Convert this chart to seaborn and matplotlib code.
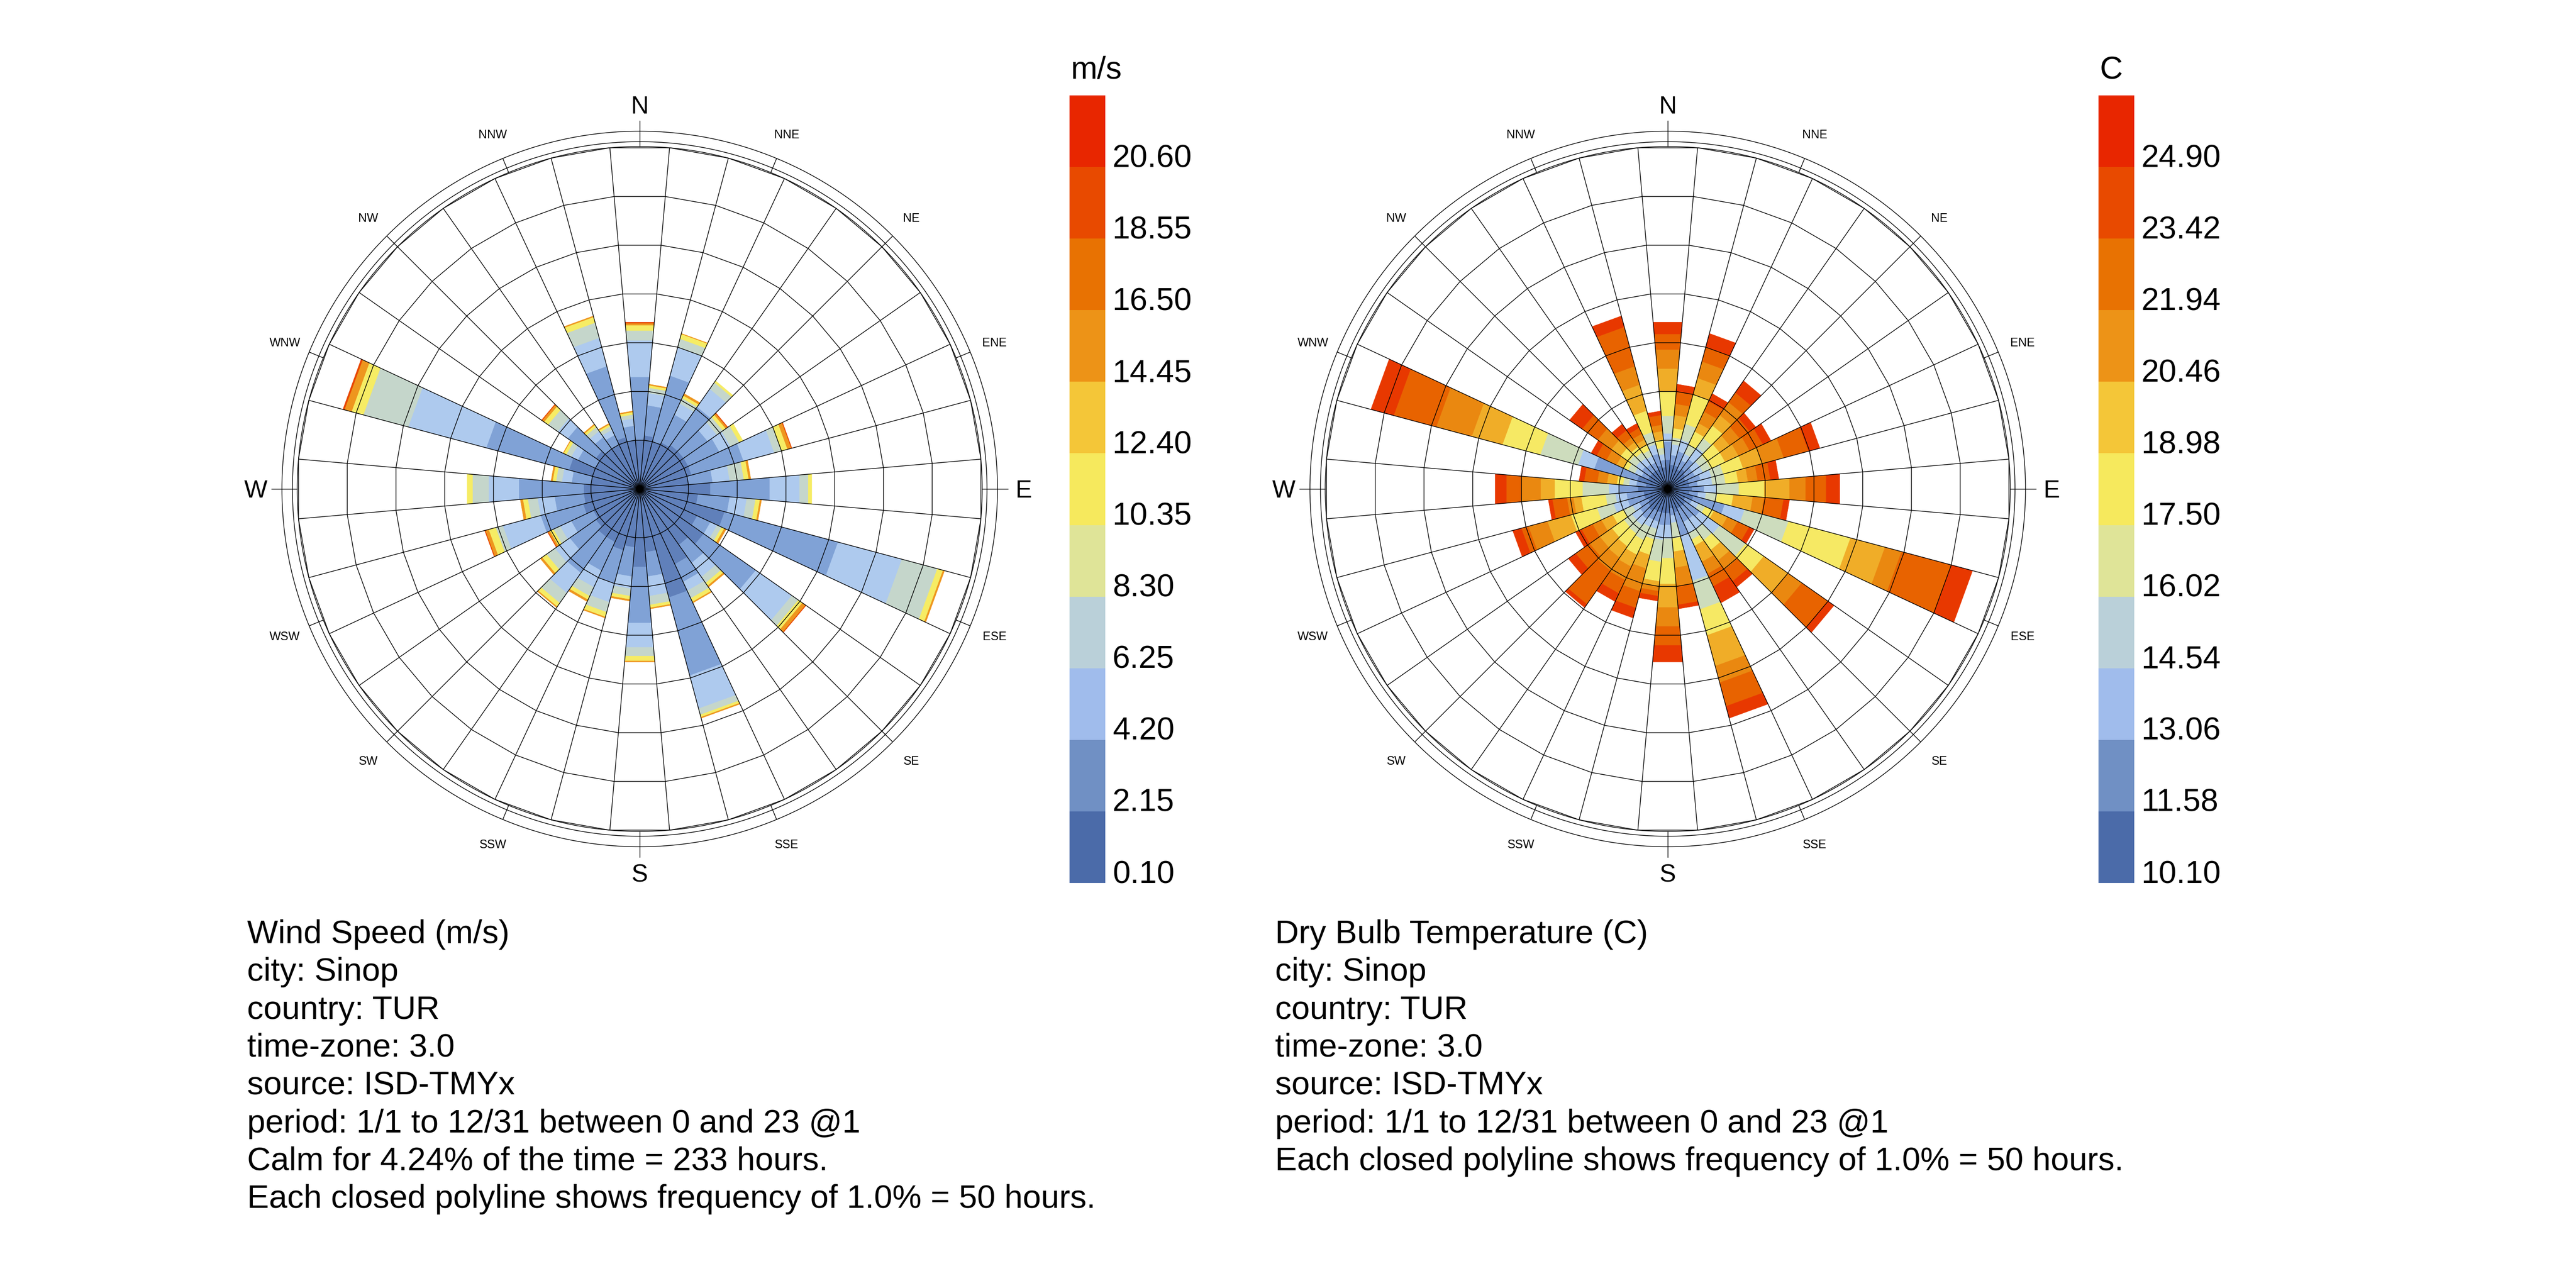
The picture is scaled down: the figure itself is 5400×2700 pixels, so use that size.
import numpy as np
import matplotlib
matplotlib.use("Agg")
import matplotlib.pyplot as plt
from matplotlib.patches import Polygon, Circle
from matplotlib.colors import ListedColormap
import seaborn as sns

# ---------------- data ----------------
directions = list(range(0, 360, 10))

# Wind speed rose: cumulative radial ends (in 1% frequency rings) of each speed band per direction
speed_band_colors = ["#6080ba", "#80a2d6", "#aecaee", "#c5d6cb", "#f6ec64", "#ee961e", "#e84600"]
speed_ends = [
    [1.00, 2.30, 3.05, 3.25, 3.36, 3.40, 3.42],
    [1.10, 1.72, 1.97, 2.08, 2.13, 2.15, 2.15],
    [1.00, 2.40, 3.00, 3.18, 3.28, 3.29, 3.29],
    [1.05, 1.68, 1.93, 2.05, 2.11, 2.15, 2.15],
    [1.10, 2.05, 2.50, 2.66, 2.70, 2.70, 2.70],
    [1.10, 1.70, 1.93, 2.08, 2.15, 2.19, 2.20],
    [1.10, 1.80, 2.05, 2.25, 2.33, 2.33, 2.33],
    [1.10, 2.20, 2.85, 3.00, 3.13, 3.21, 3.22],
    [1.00, 1.50, 1.85, 2.14, 2.24, 2.28, 2.28],
    [1.45, 2.67, 3.28, 3.46, 3.53, 3.53, 3.53],
    [1.20, 1.85, 2.20, 2.38, 2.47, 2.50, 2.50],
    [1.80, 4.20, 5.55, 6.30, 6.42, 6.45, 6.45],
    [1.30, 1.60, 1.75, 1.85, 1.91, 1.95, 1.95],
    [1.60, 2.90, 3.80, 3.96, 4.06, 4.14, 4.15],
    [1.40, 1.85, 2.20, 2.35, 2.42, 2.45, 2.45],
    [1.70, 2.10, 2.30, 2.47, 2.55, 2.57, 2.57],
    [2.30, 3.95, 4.65, 4.78, 4.83, 4.85, 4.85],
    [1.30, 1.80, 2.20, 2.38, 2.44, 2.46, 2.46],
    [1.60, 2.75, 3.25, 3.43, 3.53, 3.55, 3.55],
    [1.20, 1.80, 2.05, 2.20, 2.27, 2.30, 2.30],
    [1.30, 2.00, 2.40, 2.61, 2.71, 2.73, 2.73],
    [1.20, 1.85, 2.22, 2.42, 2.50, 2.54, 2.54],
    [1.20, 2.10, 2.60, 2.85, 2.94, 2.96, 2.96],
    [1.10, 1.75, 2.12, 2.33, 2.44, 2.48, 2.48],
    [1.05, 1.55, 1.80, 1.95, 2.03, 2.07, 2.08],
    [1.20, 2.10, 2.90, 3.05, 3.20, 3.27, 3.28],
    [1.15, 1.75, 2.10, 2.30, 2.40, 2.45, 2.45],
    [1.15, 2.48, 3.10, 3.43, 3.54, 3.54, 3.54],
    [1.00, 1.40, 1.60, 1.72, 1.79, 1.82, 1.82],
    [1.50, 3.25, 4.90, 5.85, 6.10, 6.25, 6.28],
    [1.00, 1.40, 1.55, 1.66, 1.72, 1.73, 1.73],
    [1.10, 1.80, 2.05, 2.29, 2.39, 2.44, 2.45],
    [1.00, 1.30, 1.45, 1.55, 1.60, 1.62, 1.62],
    [1.00, 1.22, 1.34, 1.42, 1.46, 1.48, 1.48],
    [1.10, 2.60, 3.20, 3.52, 3.64, 3.66, 3.66],
    [1.00, 1.30, 1.45, 1.53, 1.58, 1.60, 1.60],
]

# Dry bulb temperature rose: cumulative radial ends of each temperature band per direction
temp_band_colors = ["#5878b2", "#7f9fd5", "#aecaee", "#cddcbd", "#f6e964",
                    "#f0ad28", "#ea8810", "#e86300", "#e83800"]
temp_ends = [
    [0.60, 0.97, 1.14, 1.50, 2.01, 2.47, 2.86, 3.18, 3.42],
    [0.50, 0.70, 0.92, 1.06, 1.25, 1.52, 1.75, 2.01, 2.15],
    [0.50, 0.80, 1.04, 1.38, 2.00, 2.35, 2.70, 3.01, 3.29],
    [0.45, 0.65, 0.80, 1.00, 1.30, 1.49, 1.75, 1.98, 2.15],
    [0.50, 0.75, 1.04, 1.27, 1.59, 1.85, 2.17, 2.41, 2.70],
    [0.45, 0.62, 0.80, 0.98, 1.30, 1.55, 1.80, 2.05, 2.20],
    [0.40, 0.62, 0.80, 0.98, 1.30, 1.60, 1.85, 2.15, 2.33],
    [0.45, 0.70, 0.93, 1.18, 1.60, 2.00, 2.46, 2.98, 3.22],
    [0.45, 0.62, 0.92, 1.19, 1.45, 1.65, 1.85, 2.11, 2.28],
    [0.50, 0.75, 1.00, 1.46, 1.98, 2.50, 2.83, 3.25, 3.53],
    [0.45, 0.63, 0.79, 1.02, 1.35, 1.75, 1.98, 2.38, 2.50],
    [0.55, 1.21, 1.63, 2.56, 3.87, 4.60, 4.95, 6.00, 6.45],
    [0.40, 0.55, 0.70, 0.85, 1.05, 1.35, 1.58, 1.84, 1.95],
    [0.45, 0.80, 1.30, 1.95, 2.40, 3.00, 3.35, 4.00, 4.15],
    [0.45, 0.75, 1.00, 1.28, 1.53, 1.79, 2.02, 2.31, 2.45],
    [0.45, 0.75, 1.00, 1.15, 1.29, 1.65, 1.92, 2.20, 2.57],
    [0.50, 1.00, 1.95, 2.55, 3.10, 3.75, 4.10, 4.60, 4.85],
    [0.40, 0.55, 0.70, 1.02, 1.29, 1.62, 2.00, 2.38, 2.46],
    [0.50, 0.74, 1.02, 1.42, 1.95, 2.43, 2.82, 3.21, 3.55],
    [0.50, 0.75, 1.05, 1.50, 1.90, 2.00, 2.10, 2.20, 2.30],
    [0.50, 0.70, 0.85, 1.07, 1.40, 1.69, 2.17, 2.52, 2.73],
    [0.50, 0.70, 0.86, 1.16, 1.49, 1.76, 2.06, 2.36, 2.54],
    [0.55, 0.75, 0.91, 1.12, 1.44, 1.72, 2.04, 2.88, 2.96],
    [0.50, 0.70, 0.90, 1.10, 1.40, 1.70, 1.95, 2.30, 2.48],
    [0.45, 0.65, 0.80, 1.00, 1.25, 1.50, 1.70, 1.95, 2.08],
    [0.50, 0.85, 1.15, 1.50, 2.05, 2.55, 2.95, 3.10, 3.28],
    [0.50, 0.85, 1.08, 1.28, 1.78, 1.94, 2.07, 2.37, 2.45],
    [0.61, 1.00, 1.21, 1.75, 2.32, 2.61, 3.00, 3.31, 3.54],
    [0.45, 0.65, 0.80, 0.92, 1.05, 1.25, 1.45, 1.72, 1.82],
    [0.65, 1.56, 1.90, 2.70, 3.50, 4.15, 4.90, 5.80, 6.28],
    [0.45, 0.60, 0.75, 0.90, 1.00, 1.16, 1.39, 1.61, 1.73],
    [0.45, 0.65, 0.80, 0.97, 1.18, 1.41, 1.75, 2.14, 2.45],
    [0.45, 0.62, 0.78, 0.92, 1.06, 1.18, 1.29, 1.47, 1.62],
    [0.45, 0.60, 0.75, 0.88, 1.00, 1.12, 1.25, 1.38, 1.48],
    [0.50, 0.75, 0.95, 1.21, 1.66, 2.21, 2.60, 3.43, 3.66],
    [0.45, 0.60, 0.72, 0.85, 1.02, 1.19, 1.32, 1.52, 1.60],
]

legend_colors = ["#4b6ba9", "#7090c4", "#a0bcec", "#bad0d9", "#dfe498", "#f6e95d",
                 "#f4c638", "#ed9317", "#e87202", "#e84a00", "#e82600"]
speed_legend_labels = ["0.10", "2.15", "4.20", "6.25", "8.30", "10.35",
                       "12.40", "14.45", "16.50", "18.55", "20.60"]
temp_legend_labels = ["10.10", "11.58", "13.06", "14.54", "16.02", "17.50",
                      "18.98", "20.46", "21.94", "23.42", "24.90"]

compass_labels = ["N", "NNE", "NE", "ENE", "E", "ESE", "SE", "SSE",
                  "S", "SSW", "SW", "WSW", "W", "WNW", "NW", "NNW"]

speed_info = ["Wind Speed (m/s)", "city: Sinop", "country: TUR", "time-zone: 3.0",
              "source: ISD-TMYx", "period: 1/1 to 12/31 between 0 and 23 @1",
              "Calm for 4.24% of the time = 233 hours.",
              "Each closed polyline shows frequency of 1.0% = 50 hours."]
temp_info = ["Dry Bulb Temperature (C)", "city: Sinop", "country: TUR", "time-zone: 3.0",
             "source: ISD-TMYx", "period: 1/1 to 12/31 between 0 and 23 @1",
             "Each closed polyline shows frequency of 1.0% = 50 hours."]
n_rings = 7

# ---------------- style ----------------
sns.set_theme(style="white")
plt.rcParams['font.family'] = ['Liberation Sans', 'DejaVu Sans']

W, H, DPI = 5400, 2700, 300
fig = plt.figure(figsize=(W / DPI, H / DPI), dpi=DPI)
fig.patch.set_facecolor("white")
ax = fig.add_axes([0, 0, 1, 1])
ax.set_xlim(0, W)
ax.set_ylim(H, 0)
ax.set_axis_off()

RING = 102.57
LW = 0.35
HALF = 5.0
CAP = 0.716 * DPI / 72.0   # cap height in px per pt of font size


def pt(cx, cy, r, deg):
    a = np.radians(deg)
    return (cx + r * np.sin(a), cy - r * np.cos(a))


def draw_rose(cx, cy, ends, colors):
    # stacked bars
    for d, band_ends in zip(directions, ends):
        a1, a2 = d - HALF, d + HALF
        start = 0.0
        for k, e in enumerate(band_ends):
            if e > start + 1e-6:
                r1, r2 = start * RING, e * RING
                poly = [pt(cx, cy, r1, a1), pt(cx, cy, r2, a1),
                        pt(cx, cy, r2, a2), pt(cx, cy, r1, a2)]
                ax.add_patch(Polygon(poly, closed=True, facecolor=colors[k],
                                     edgecolor=colors[k], lw=0.2, zorder=2))
                start = e
    # frequency rings (closed polylines)
    bounds = [d + HALF for d in directions]
    for k in range(1, n_rings + 1):
        poly = [pt(cx, cy, k * RING, b) for b in bounds]
        ax.add_patch(Polygon(poly, closed=True, fill=False, edgecolor="black",
                             lw=LW, zorder=3))
    rmax = n_rings * RING
    # radial lines
    for b in bounds:
        x1, y1 = pt(cx, cy, rmax, b)
        ax.plot([cx, x1], [cy, y1], color="black", lw=LW, zorder=3)
    ax.add_patch(Circle((cx, cy), 6, color="black", zorder=4))
    # compass circles
    for r in (rmax, rmax + 10, rmax + 32):
        ax.add_patch(Circle((cx, cy), r, fill=False, edgecolor="black", lw=LW, zorder=3))
    # ticks & labels
    for i, lab in enumerate(compass_labels):
        ang = i * 22.5
        major = (i % 4 == 0)
        r_out = rmax + (54 if major else 32)
        x0, y0 = pt(cx, cy, rmax, ang)
        x1, y1 = pt(cx, cy, r_out, ang)
        ax.plot([x0, x1], [y0, y1], color="black", lw=LW, zorder=3)
        fs = 12.4 if major else 6.0
        xl, yl = pt(cx, cy, 805, ang)
        ax.text(xl, yl + fs * CAP / 2, lab, ha="center", va="baseline",
                fontsize=fs, color="black", zorder=5)


def draw_legend(x0, title, labels):
    top, bottom = 200, 1851
    cax = fig.add_axes([x0 / W, 1 - bottom / H, 75 / W, (bottom - top) / H])
    data = np.arange(len(legend_colors) - 1, -1, -1).reshape(-1, 1)
    sns.heatmap(data, cmap=ListedColormap(legend_colors), vmin=-0.5,
                vmax=len(legend_colors) - 0.5, cbar=False, xticklabels=False,
                yticklabels=False, linewidths=0, ax=cax)
    cax.set_xlabel("")
    cax.set_ylabel("")
    seg = (bottom - top) / len(legend_colors)
    for k, lab in enumerate(labels):
        ax.text(x0 + 90, bottom - k * seg, lab, ha="left", va="baseline",
                fontsize=16, color="black")
    ax.text(x0 + 3, 165, title, ha="left", va="baseline", fontsize=16, color="black")


def draw_info(x0, lines):
    for k, line in enumerate(lines):
        ax.text(x0, 1977 + k * 79.3, line, ha="left", va="baseline",
                fontsize=16.5, color="black")


OFFSET = 2155
draw_rose(1341, 1025, speed_ends, speed_band_colors)
draw_rose(1341 + OFFSET, 1025, temp_ends, temp_band_colors)
draw_legend(2242, "m/s", speed_legend_labels)
draw_legend(2242 + OFFSET + 2, "C", temp_legend_labels)
draw_info(518, speed_info)
draw_info(518 + OFFSET, temp_info)

fig.savefig("out.png", dpi=DPI, facecolor="white")
